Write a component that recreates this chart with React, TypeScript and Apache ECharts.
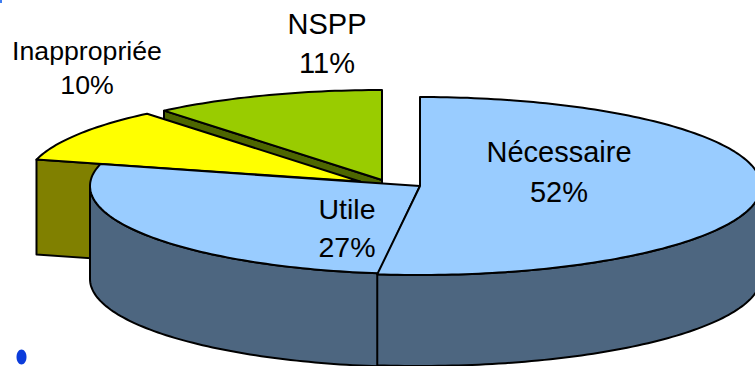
import React, { useEffect, useRef } from "react";
import * as echarts from "echarts";

const categories = ["Nécessaire", "Utile", "Inappropriée", "NSPP"];
const shares = [52, 27, 10, 11];
const drawOrder = [3, 2, 1, 0];

const topColors = ["#99ccff", "#99ccff", "#ffff00", "#99cc00"];
const wallColors = ["#4d6680", "#4d6680", "#808000", "#4d6600"];
const apexX = [420, 420, 360, 382];
const apexY = [186, 186, 181.5, 180];
const radiusX = [341, 330, 334, 342];
const radiusY = [89, 88, 88, 90];
const depths = [91, 93, 95, 90];
const labelX = [559, 347, 87, 327];
const labelY = [172, 228, 68, 43.5];
const labelSize = [29, 28.5, 26.7, 29];
const labelGap = [40, 38, 34, 39];

const total = shares.reduce((a, b) => a + b, 0);
const startAngle = (i: number) => (shares.slice(0, i).reduce((a, b) => a + b, 0) / total) * 2 * Math.PI;

const stroke = { stroke: "#000", lineWidth: 2, lineJoin: "round" };

function renderItem(_params: any, api: any) {
  const i = api.value(1) as number;
  const a0 = startAngle(i);
  const a1 = a0 + (api.value(0) / total) * 2 * Math.PI;
  const cx = apexX[i], cy = apexY[i], rx = radiusX[i], ry = radiusY[i], d = depths[i];
  const at = (a: number, dy = 0) => [cx + rx * Math.sin(a), cy - ry * Math.cos(a) + dy];
  const arc = (from: number, to: number, dy = 0) => {
    const n = Math.max(2, Math.ceil(Math.abs(to - from) / 0.02));
    return Array.from({ length: n + 1 }, (_, k) => at(from + ((to - from) * k) / n, dy));
  };
  const children: any[] = [];
  const wall = (points: number[][]) =>
    children.push({ type: "polygon", shape: { points }, style: { fill: wallColors[i], ...stroke } });

  // Outer wall: only the part of the rim that faces the viewer (90deg to 270deg)
  const from = Math.max(a0, Math.PI / 2), to = Math.min(a1, (3 * Math.PI) / 2);
  if (to > from) wall([...arc(from, to), ...arc(to, from, d)]);
  // Radial walls that are seen through the exploded gaps
  if (i === 2) wall([at(a0), [cx, cy], [cx, cy + d], at(a0, d)]);
  if (i === 3) wall([at(a0), [cx, cy], [cx, cy + d], at(a0, d)]);

  // Top face
  children.push({
    type: "polygon",
    shape: { points: [[cx, cy], ...arc(a0, a1)] },
    style: { fill: topColors[i], ...stroke },
  });
  return { type: "group", children };
}

function labelItems() {
  return categories.map((name, i) => ({
    type: "text",
    x: labelX[i],
    y: labelY[i],
    z: 10,
    style: {
      text: `${name}\n${shares[i]}%`,
      fill: "#000",
      font: `${labelSize[i]}px "Liberation Sans", Arial, sans-serif`,
      lineHeight: labelGap[i],
      align: "center",
      verticalAlign: "middle",
    },
  }));
}

export default function App() {
  const ref = useRef<HTMLDivElement>(null);
  useEffect(() => {
    const chart = echarts.init(ref.current!, undefined, { renderer: "svg" });
    chart.setOption({
      animation: false,
      backgroundColor: "#fff",
      series: [
        {
          type: "custom",
          coordinateSystem: "none",
          silent: true,
          renderItem,
          data: drawOrder.map((i) => ({ name: categories[i], value: [shares[i], i] })),
        },
      ],
      graphic: [
        ...labelItems(),
        { type: "ellipse", shape: { cx: 21.5, cy: 357, rx: 5, ry: 7.5 }, style: { fill: "#0b3cdb" } },
        { type: "rect", shape: { x: 0, y: 0, width: 2, height: 3 }, style: { fill: "#3f7df0" } },
      ],
    });
    return () => chart.dispose();
  }, []);
  return <div ref={ref} style={{ position: "absolute", left: 0, top: 0, width: 755, height: 366 }} />;
}
